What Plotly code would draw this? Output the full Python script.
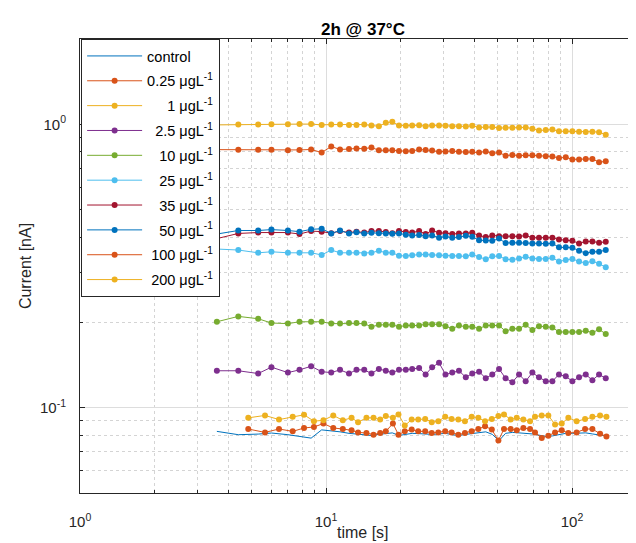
import plotly.graph_objects as go

# ---------------- data ----------------
t_main = [3.6, 4.4, 5.3, 6.0, 7.0, 7.8, 8.7, 9.6, 10.5, 11.4, 12.4, 13.3, 14.3, 15.3, 16.4, 17.5,
          18.6, 19.8, 21.1, 22.4, 23.9, 25.4, 27.0, 28.8, 30.6, 32.6, 34.7, 37.0, 39.3, 41.9, 44.6,
          47.4, 50.5, 53.7, 57.2, 60.9, 64.8, 69.0, 73.4, 78.2, 83.2, 88.5, 94.3, 100.3, 106.8,
          113.7, 121.0, 128.8, 137.1]
t_low = [4.83, 5.65, 6.44, 7.32, 8.14, 8.93, 9.76, 10.7, 11.7, 12.7, 13.5, 14.6, 15.6, 16.6, 17.5,
         18.7, 19.7, 20.9, 22.3, 23.7, 25.3, 26.9, 28.6, 30.5, 32.4, 34.5, 36.7, 39.1, 41.6, 44.3,
         47.2, 50.2, 52.9, 56.3, 59.6, 63.4, 67.5, 70.7, 75.3, 80.1, 85.3, 90.8, 96.6, 104.4, 113.0,
         121.0, 130.0, 138.0]

control = [0.0825, 0.0803, 0.0807, 0.0814, 0.0803, 0.0792, 0.0781, 0.0835, 0.0830, 0.0822, 0.0812,
           0.0808, 0.0803, 0.0798, 0.0805, 0.0812, 0.0815, 0.0798, 0.0803, 0.0812, 0.0810, 0.0808,
           0.0805, 0.0808, 0.0812, 0.0803, 0.0798, 0.0805, 0.0812, 0.0818, 0.0822, 0.0805, 0.0765,
           0.0812, 0.0818, 0.0815, 0.0812, 0.0808, 0.0800, 0.0792, 0.0795, 0.0803, 0.0812, 0.0812,
           0.0815, 0.0815, 0.0808, 0.0800, 0.0795]
c_025 = [0.814, 0.814, 0.814, 0.814, 0.810, 0.812, 0.815, 0.795, 0.835, 0.815, 0.818, 0.822, 0.820,
         0.828, 0.810, 0.810, 0.810, 0.805, 0.803, 0.805, 0.815, 0.812, 0.808, 0.800, 0.802, 0.805,
         0.800, 0.798, 0.800, 0.795, 0.802, 0.790, 0.795, 0.775, 0.780, 0.775, 0.777, 0.777, 0.775,
         0.772, 0.770, 0.760, 0.765, 0.752, 0.752, 0.755, 0.755, 0.735, 0.740]
c_1 = [0.995, 0.998, 0.998, 1.000, 1.000, 1.002, 1.002, 0.995, 0.998, 0.998, 0.995, 0.995, 0.998,
       0.990, 0.985, 1.012, 1.020, 0.990, 0.988, 0.990, 0.992, 0.985, 0.990, 0.990, 0.988, 0.985,
       0.985, 0.982, 0.988, 0.975, 0.978, 0.978, 0.970, 0.972, 0.972, 0.975, 0.975, 0.965, 0.950,
       0.955, 0.958, 0.945, 0.945, 0.945, 0.942, 0.940, 0.942, 0.938, 0.918]
c_25 = [0.135, 0.135, 0.132, 0.139, 0.133, 0.136, 0.140, 0.134, 0.133, 0.136, 0.132, 0.136, 0.136,
        0.132, 0.137, 0.135, 0.133, 0.136, 0.136, 0.137, 0.138, 0.131, 0.139, 0.144, 0.131, 0.133,
        0.135, 0.128, 0.132, 0.134, 0.127, 0.131, 0.137, 0.127, 0.123, 0.131, 0.124, 0.133, 0.128,
        0.124, 0.124, 0.131, 0.129, 0.124, 0.128, 0.131, 0.125, 0.131, 0.127]
c_10 = [0.201, 0.210, 0.206, 0.199, 0.198, 0.201, 0.201, 0.201, 0.198, 0.198, 0.199, 0.199, 0.198,
        0.193, 0.196, 0.196, 0.196, 0.193, 0.195, 0.195, 0.195, 0.197, 0.197, 0.197, 0.194, 0.190,
        0.195, 0.193, 0.193, 0.190, 0.195, 0.195, 0.195, 0.186, 0.190, 0.190, 0.196, 0.188, 0.194,
        0.193, 0.192, 0.185, 0.185, 0.185, 0.185, 0.187, 0.184, 0.189, 0.182]
c_25b = [0.363, 0.360, 0.352, 0.355, 0.352, 0.352, 0.352, 0.346, 0.360, 0.352, 0.352, 0.352, 0.350,
         0.352, 0.358, 0.352, 0.352, 0.344, 0.343, 0.345, 0.347, 0.347, 0.346, 0.345, 0.344, 0.343,
         0.343, 0.342, 0.347, 0.340, 0.334, 0.342, 0.343, 0.334, 0.333, 0.336, 0.341, 0.336, 0.335,
         0.335, 0.338, 0.328, 0.332, 0.335, 0.328, 0.324, 0.329, 0.322, 0.313]
c_35 = [0.395, 0.412, 0.415, 0.415, 0.415, 0.410, 0.420, 0.418, 0.413, 0.420, 0.415, 0.418, 0.415,
        0.420, 0.420, 0.417, 0.413, 0.420, 0.417, 0.415, 0.420, 0.410, 0.422, 0.414, 0.413, 0.410,
        0.412, 0.412, 0.414, 0.405, 0.400, 0.405, 0.403, 0.403, 0.403, 0.402, 0.405, 0.398, 0.398,
        0.398, 0.398, 0.392, 0.390, 0.388, 0.380, 0.386, 0.386, 0.382, 0.385]
c_50 = [0.410, 0.422, 0.422, 0.425, 0.422, 0.418, 0.426, 0.428, 0.412, 0.422, 0.412, 0.416, 0.412,
        0.414, 0.413, 0.412, 0.411, 0.412, 0.408, 0.405, 0.407, 0.403, 0.405, 0.398, 0.402, 0.398,
        0.400, 0.404, 0.401, 0.390, 0.389, 0.388, 0.395, 0.381, 0.382, 0.382, 0.381, 0.380, 0.380,
        0.379, 0.380, 0.368, 0.368, 0.367, 0.358, 0.351, 0.355, 0.355, 0.360]
c_100 = [0.0841, 0.0818, 0.0841, 0.0825, 0.0848, 0.0855, 0.0879, 0.0848, 0.0841, 0.0832, 0.0818,
         0.0814, 0.0803, 0.0814, 0.0825, 0.0879, 0.0803, 0.0825, 0.0837, 0.0825, 0.0825, 0.0814,
         0.0818, 0.0825, 0.0818, 0.0803, 0.0814, 0.0825, 0.0841, 0.0860, 0.0837, 0.0766, 0.0841,
         0.0841, 0.0832, 0.0848, 0.0841, 0.0818, 0.0781, 0.0796, 0.0818, 0.0832, 0.0814, 0.0818,
         0.0841, 0.0841, 0.0809, 0.0792]
c_200 = [0.0921, 0.0939, 0.0908, 0.0929, 0.0944, 0.0896, 0.0903, 0.0939, 0.0903, 0.0921, 0.0889,
         0.0921, 0.0921, 0.0908, 0.0934, 0.0921, 0.0947, 0.0865, 0.0908, 0.0908, 0.0913, 0.0889,
         0.0896, 0.0929, 0.0913, 0.0908, 0.0896, 0.0929, 0.0921, 0.0896, 0.0913, 0.0934, 0.0947,
         0.0908, 0.0921, 0.0908, 0.0896, 0.0929, 0.0939, 0.0939, 0.0872, 0.0879, 0.0921, 0.0896,
         0.0913, 0.0929, 0.0939, 0.0929]

FS = "\u2007"  # figure space (digit width)
PS = "\u2008"  # punctuation space
unit = " μgL<sup>-1</sup>"
names = ["control",
         "0.25" + unit,
         FS + FS + PS + "1" + unit,
         FS + "2.5" + unit,
         FS + PS + "10" + unit,
         FS + PS + "25" + unit,
         FS + PS + "35" + unit,
         FS + PS + "50" + unit,
         PS + "100" + unit,
         PS + "200" + unit]
colors = ["#0072BD", "#D95319", "#EDB120", "#7E2F8E", "#77AC30", "#4DBEEE",
          "#A2142F", "#0072BD", "#D95319", "#EDB120"]
xs = [t_main] * 8 + [t_low, t_low]
ys = [control, c_025, c_1, c_25, c_10, c_25b, c_35, c_50, c_100, c_200]

x_major = [1, 10, 100]
x_major_text = ["10<sup>0</sup>", "10<sup>1</sup>", "10<sup>2</sup>"]
x_minor = [2, 3, 4, 5, 6, 7, 8, 9, 20, 30, 40, 50, 60, 70, 80, 90, 200]
y_major = [0.1, 1]
y_major_text = ["10<sup>-1</sup>", "10<sup>0</sup>"]
y_minor = [0.05, 0.06, 0.07, 0.08, 0.09, 0.2, 0.3, 0.4, 0.5, 0.6, 0.7, 0.8, 0.9, 2]

# ---------------- figure ----------------
fig = go.Figure()
for i, (n, x, y, c) in enumerate(zip(names, xs, ys, colors)):
    if i == 0:
        fig.add_trace(go.Scatter(x=x, y=y, name=n, mode="lines",
                                 line=dict(color=c, width=1), legendgroup=str(i)))
    else:
        fig.add_trace(go.Scatter(x=x, y=y, name=n, mode="lines+markers",
                                 line=dict(color=c, width=1),
                                 marker=dict(color=c, size=6, symbol="circle"),
                                 legendgroup=str(i)))

FONT = "Liberation Sans, Arial, Helvetica, sans-serif"
AX = "#262626"

# the page body adds an 8 px offset; margins compensate for it
fig.update_layout(
    width=636, height=543,
    margin=dict(l=72, r=8, t=31, b=58),
    paper_bgcolor="white", plot_bgcolor="white",
    font=dict(family=FONT, size=15, color=AX),
    title=dict(text="<b>2h @ 37°C</b>", x=0.509, xref="paper", xanchor="center",
               y=1 - 21 / 543, yref="container", yanchor="middle",
               font=dict(size=17, color="#000000")),
    showlegend=True,
    legend=dict(x=0.002, y=1, xanchor="left", yanchor="top",
                bgcolor="white", bordercolor=AX, borderwidth=1,
                font=dict(size=14.5, color="#000000"),
                traceorder="grouped", tracegroupgap=3,
                itemwidth=55),
    annotations=[dict(text="time [s]", xref="paper", yref="paper", x=0.509, y=-0.088,
                      xanchor="center", yanchor="middle", showarrow=False,
                      font=dict(size=16, color=AX))],
)
fig.update_xaxes(
    type="log", range=[0, 2.26], automargin=False,
    tickmode="array", tickvals=x_major, ticktext=x_major_text,
    ticks="inside", ticklen=5, tickcolor=AX, tickwidth=0.7,
    showline=True, linecolor=AX, linewidth=1, mirror="ticks",
    showgrid=True, gridcolor="#dddddd", gridwidth=1,
    minor=dict(tickmode="array", tickvals=x_minor, ticks="inside", ticklen=3,
               tickcolor=AX, showgrid=True, gridcolor="#d4d4d4", griddash="dot", gridwidth=1),
    ticklabelstandoff=15,
    tickfont=dict(size=15, color=AX),
    zeroline=False,
)
fig.update_yaxes(
    type="log", range=[-1.301, 0.301], automargin=False,
    tickmode="array", tickvals=y_major, ticktext=y_major_text,
    ticks="inside", ticklen=5, tickcolor=AX, tickwidth=0.7,
    showline=True, linecolor=AX, linewidth=1,
    showgrid=True, gridcolor="#dddddd", gridwidth=1,
    minor=dict(tickmode="array", tickvals=y_minor, ticks="inside", ticklen=3,
               tickcolor=AX, showgrid=True, gridcolor="#d4d4d4", griddash="dot", gridwidth=1),
    ticklabelstandoff=10,
    tickfont=dict(size=15, color=AX),
    title=dict(text="Current [nA]", font=dict(size=16, color=AX), standoff=4),
    zeroline=False,
)

fig.write_html("out.html")
